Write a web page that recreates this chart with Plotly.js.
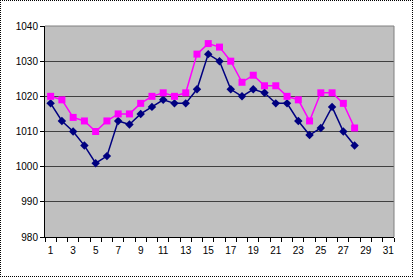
<!DOCTYPE html>
<html><head><meta charset="utf-8">
<script src="https://cdn.plot.ly/plotly-3.0.1.min.js"></script>
<style>
html,body{margin:0;padding:0;background:#fff;}
#c{width:413px;height:277px;box-sizing:border-box;border:1px dotted #000;}
</style></head>
<body><div id="c"></div>
<script>
const days = [1,2,3,4,5,6,7,8,9,10,11,12,13,14,15,16,17,18,19,20,21,22,23,24,25,26,27,28];
const seriesNavy = [1018,1013,1010,1006,1001,1003,1013,1012,1015,1017,1019,1018,1018,1022,1032,1030,1022,1020,1022,1021,1018,1018,1013,1009,1011,1017,1010,1006];
const seriesMagenta = [1020,1019,1014,1013,1010,1013,1015,1015,1018,1020,1021,1020,1021,1032,1035,1034,1030,1024,1026,1023,1023,1020,1019,1013,1021,1021,1018,1011];
const xTickVals = [1,3,5,7,9,11,13,15,17,19,21,23,25,27,29,31];
const yTickVals = [980,990,1000,1010,1020,1030,1040];

const traces = [
  {x: days, y: seriesNavy, type:'scatter', mode:'lines+markers',
   line:{color:'#000080', width:1.5},
   marker:{symbol:'diamond', size:6.5, color:'#000080'}},
  {x: days, y: seriesMagenta, type:'scatter', mode:'lines+markers',
   line:{color:'#FF00FF', width:1.5},
   marker:{symbol:'square', size:7, color:'#FF00FF'}}
];
const layout = {
  width:411, height:275,
  margin:{l:44, r:18, t:25, b:39},
  paper_bgcolor:'#ffffff', plot_bgcolor:'#c0c0c0',
  showlegend:false,
  font:{family:'Liberation Sans, Arial, sans-serif', size:10, color:'#000'},
  xaxis:{range:[0.5,31.5], tickmode:'array', tickvals:xTickVals, ticktext:xTickVals.map(String),
    ticks:'', showgrid:false, zeroline:false, showline:true, linecolor:'#000', linewidth:1,
    mirror:false, ticklabelstandoff:4,
    minor:{tick0:0.5, dtick:1, ticks:'outside', ticklen:4, tickcolor:'#000', showgrid:false}},
  yaxis:{range:[980,1040], tickmode:'array', tickvals:yTickVals, ticks:'outside', ticklen:4,
    tickcolor:'#000', showgrid:true, gridcolor:'#404040', gridwidth:1, zeroline:false,
    showline:true, linecolor:'#000', linewidth:1},
  shapes:[
    {type:'line', xref:'paper', yref:'paper', x0:1, x1:1, y0:0, y1:1, line:{color:'#808080', width:1}},
    {type:'line', xref:'paper', yref:'paper', x0:0, x1:1, y0:1, y1:1, line:{color:'#808080', width:1}}
  ]
};
Plotly.newPlot('c', traces, layout, {displayModeBar:false, staticPlot:true});
</script></body></html>
